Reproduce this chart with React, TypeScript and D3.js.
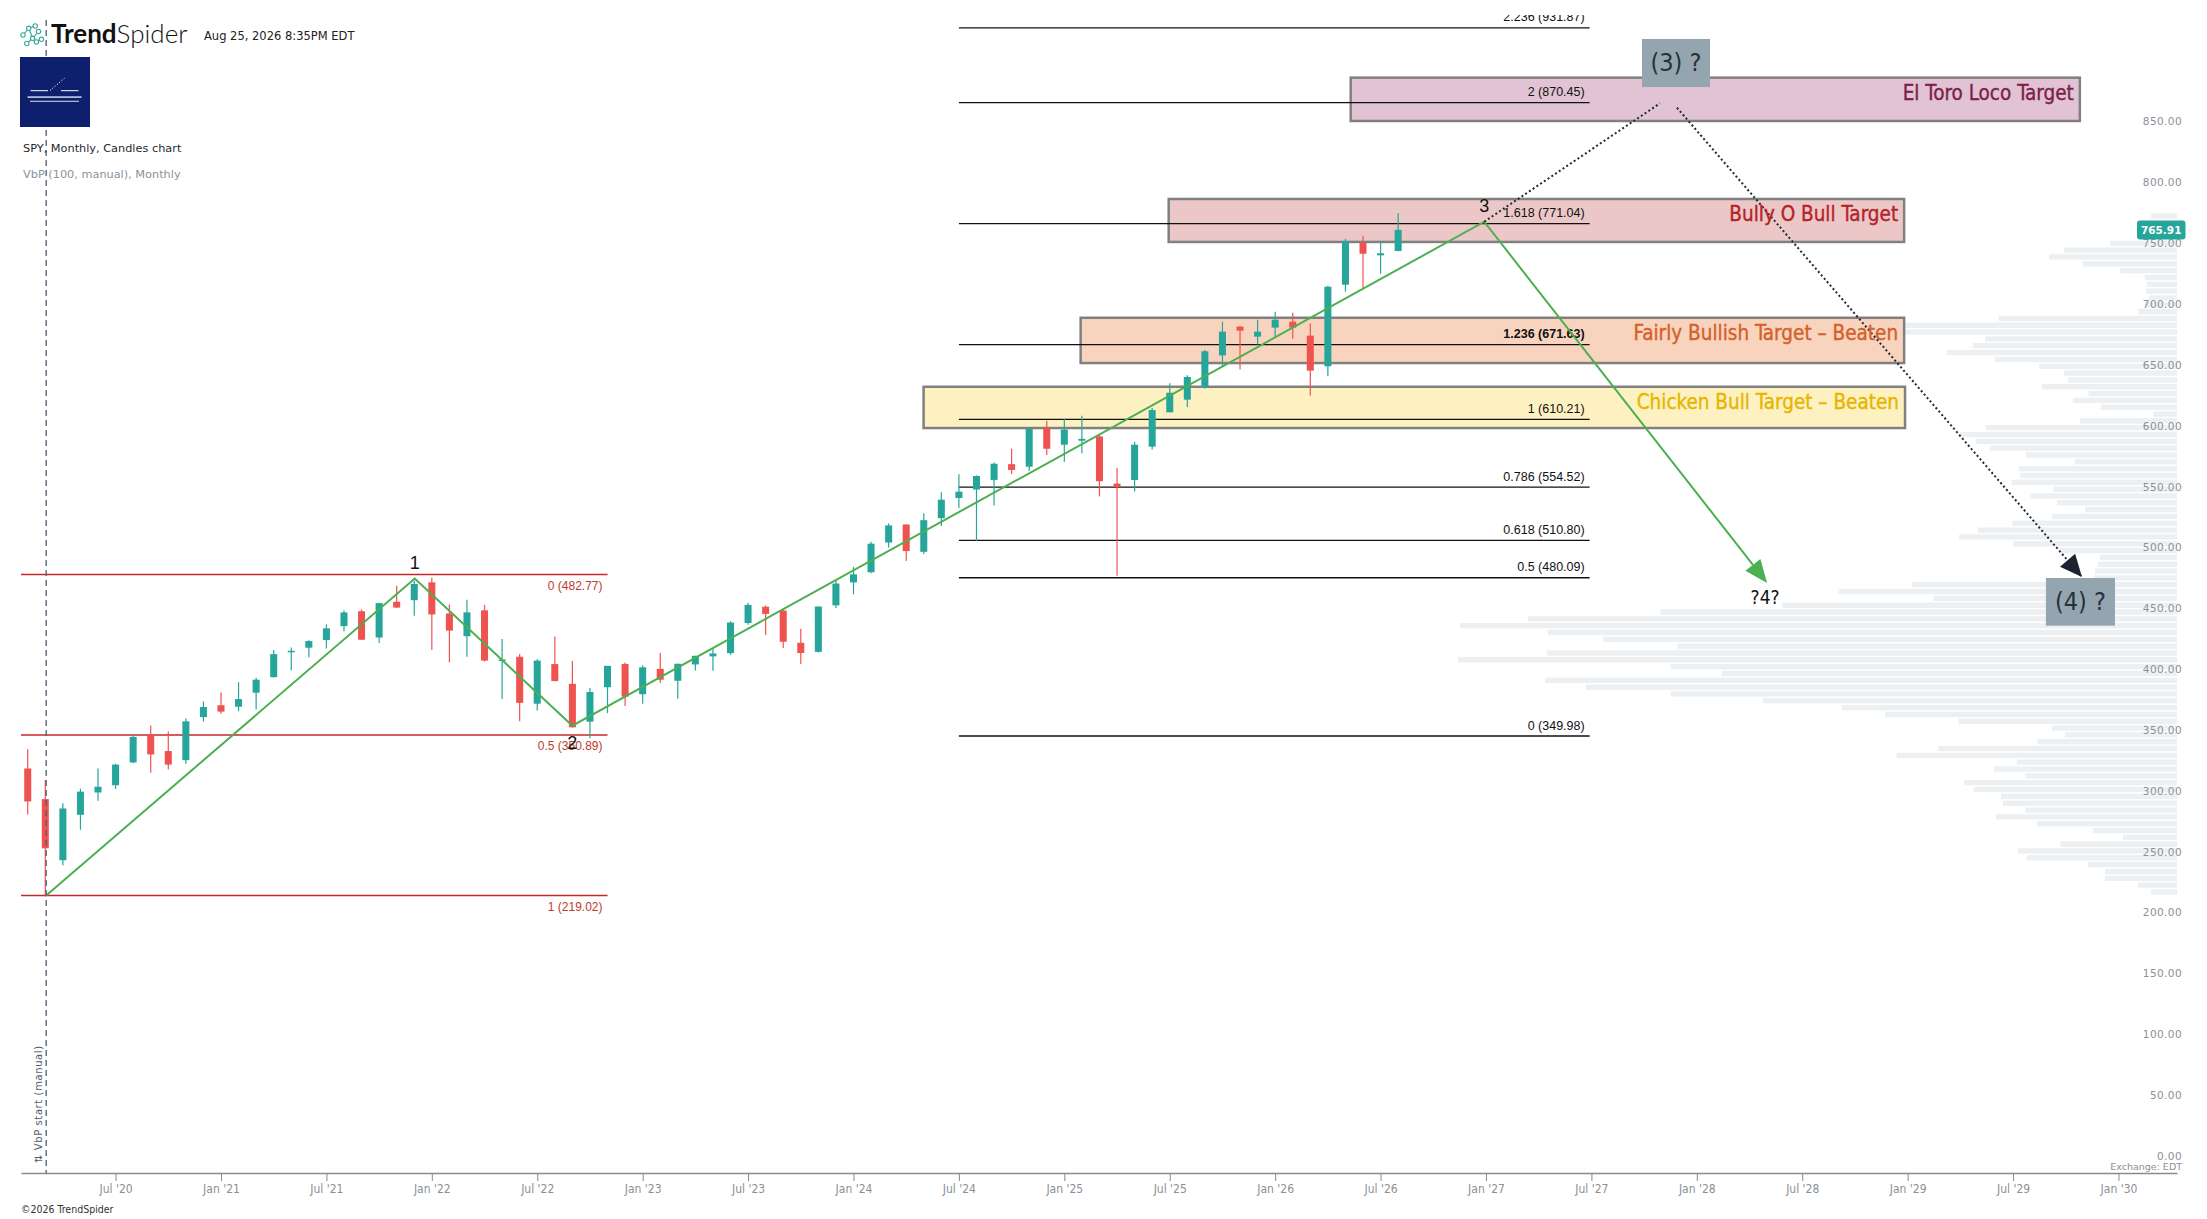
import { useEffect, useRef } from "react";
import * as d3 from "d3";

// monthly candles, Feb 2020 .. Aug 2026  [open, high, low, close]
const FIRST_MONTH = "2020-02";
const OHLC: [number, number, number, number][] = [
  [323.35, 339.08, 285.54, 296.26], [298.21, 313.84, 218.26, 257.75], [247.98, 294.88, 243.9, 290.48],
  [285.31, 306.84, 272.99, 304.32], [303.62, 323.41, 296.74, 308.36], [309.57, 327.23, 306.53, 326.52],
  [328.32, 351.3, 327.73, 349.31], [350.35, 358.75, 319.8, 334.89], [337.69, 354.02, 322.6, 326.54],
  [330.2, 364.38, 327.24, 362.06], [365.57, 378.46, 362.03, 373.88],
  [375.31, 385.85, 368.27, 370.07], [374.08, 394.17, 370.38, 380.36], [385.59, 398.0, 371.88, 396.33],
  [398.4, 420.72, 398.18, 417.3], [419.43, 422.82, 404.0, 420.04], [422.57, 428.78, 414.7, 428.06],
  [428.87, 441.8, 421.97, 438.51], [440.34, 453.07, 436.1, 451.56], [452.56, 454.05, 428.78, 429.14],
  [430.98, 459.56, 426.36, 459.25], [460.3, 473.54, 455.34, 455.56], [461.64, 477.55, 448.92, 474.96],
  [476.3, 479.98, 420.76, 449.91], [450.68, 458.12, 410.64, 436.63], [432.03, 462.07, 415.12, 451.64],
  [453.31, 457.83, 411.21, 412.0], [412.07, 429.66, 380.54, 412.93], [415.17, 417.44, 362.17, 377.25],
  [376.56, 413.03, 371.04, 411.99], [409.15, 431.73, 395.04, 395.18], [392.89, 411.73, 357.04, 357.18],
  [361.8, 389.52, 348.11, 386.21], [390.14, 407.68, 368.79, 407.68], [409.16, 410.49, 374.77, 382.43],
  [384.37, 408.16, 376.5, 406.48], [405.21, 418.31, 393.64, 396.26], [395.41, 409.7, 380.65, 409.39],
  [408.85, 415.94, 403.78, 415.93], [415.47, 422.58, 403.74, 417.85], [418.09, 444.3, 416.79, 443.28],
  [442.92, 459.44, 441.36, 457.79], [456.27, 457.25, 433.01, 450.35], [453.17, 453.67, 422.29, 427.48],
  [426.62, 438.14, 409.21, 418.2], [419.2, 456.4, 418.65, 456.4], [457.42, 477.55, 455.29, 475.31],
  [476.25, 489.01, 466.43, 482.88], [484.63, 509.74, 483.8, 508.08], [508.98, 524.61, 504.91, 523.07],
  [523.83, 523.83, 493.86, 501.98], [501.38, 533.07, 499.55, 527.37], [529.02, 550.28, 522.6, 544.22],
  [545.63, 565.16, 537.45, 550.81], [552.57, 564.2, 510.27, 563.68], [560.47, 574.71, 539.44, 573.76],
  [573.4, 586.12, 565.27, 568.64], [571.32, 603.35, 567.89, 602.55], [602.97, 609.07, 580.91, 586.08],
  [589.39, 610.78, 575.35, 601.82], [592.67, 613.23, 582.44, 594.18], [596.18, 597.34, 546.87, 559.39],
  [557.45, 570.28, 481.8, 554.54], [560.37, 591.86, 550.9, 589.39], [587.8, 619.6, 585.4, 617.85],
  [616.0, 639.8, 616.0, 632.08], [626.4, 646.5, 620.3, 645.05], [636.8, 667.3, 635.5, 666.18],
  [662.8, 690.5, 654.1, 682.3], [686.4, 687.0, 651.1, 683.1], [678.2, 692.1, 671.6, 682.3],
  [685.6, 698.7, 677.6, 692.1], [690.5, 697.9, 676.5, 685.6], [679.0, 688.9, 629.7, 650.3],
  [653.8, 720.0, 645.6, 719.2], [720.9, 758.6, 715.1, 756.8], [755.4, 761.0, 717.6, 746.3],
  [745.0, 755.7, 729.9, 746.7], [748.6, 779.8, 748.3, 765.91],
];

const X_TICK_MONTHS = [6, 12, 18, 24, 30, 36, 42, 48, 54, 60, 66, 72, 78, 84, 90, 96, 102, 108, 114, 120];
const X_TICK_LABELS = [
  "Jul '20", "Jan '21", "Jul '21", "Jan '22", "Jul '22", "Jan '23", "Jul '23", "Jan '24", "Jul '24", "Jan '25",
  "Jul '25", "Jan '26", "Jul '26", "Jan '27", "Jul '27", "Jan '28", "Jul '28", "Jan '29", "Jul '29", "Jan '30",
];
const PRICE_TICKS = [0, 50, 100, 150, 200, 250, 300, 350, 400, 450, 500, 550, 600, 650, 700, 750, 800, 850];

// volume by price, 100 rows from low to high (relative volume)
const VBP_LOW = 219.02;
const VBP_HIGH = 780;
const VBP_VOLUME = [
  3.6, 5.4, 10.0, 10.0, 12.4, 20.9, 22.1, 16.2, 7.5, 11.7,
  19.5, 25.2, 21.1, 24.2, 24.5, 28.3, 29.6, 21.1, 25.5, 22.3,
  39.0, 33.2, 19.4, 15.6, 17.4, 30.4, 40.6, 46.6, 57.6, 70.4,
  82.2, 87.9, 63.3, 70.4, 100, 87.6, 69.5, 79.8, 87.5, 99.7,
  90.3, 71.8, 54.9, 33.9, 47.1, 36.9, 11.5, 11.4, 11.0, 10.7,
  16.3, 22.8, 30.3, 27.7, 22.9, 17.4, 12.8, 16.7, 20.4, 17.2,
  23.0, 21.8, 22.0, 14.2, 21.0, 26.0, 28.0, 30.2, 26.6, 13.5,
  3.3, 10.6, 14.5, 12.3, 18.8, 15.2, 15.7, 19.2, 25.3, 32.0,
  28.4, 26.7, 41.3, 47.3, 24.8, 5.4, 4.5, 3.9, 4.3, 4.2,
  4.5, 7.9, 13.1, 17.8, 15.7, 9.3, 0, 0, 0, 3.6,
];

const RED_FIB_LABELS = ["0 (482.77)", "0.5 (350.89)", "1 (219.02)"];
const RED_FIB_PRICES = [482.77, 350.89, 219.02];
const BLACK_FIB_LABELS = [
  "0 (349.98)", "0.5 (480.09)", "0.618 (510.80)", "0.786 (554.52)", "1 (610.21)",
  "1.236 (671.63)", "1.618 (771.04)", "2 (870.45)", "2.236 (931.87)",
];
const BLACK_FIB_PRICES = [349.98, 480.09, 510.8, 554.52, 610.21, 671.63, 771.04, 870.45, 931.87];

// target zones: month span and price span
const TARGETS = [
  { label: "El Toro Loco Target", m0: 76.3, m1: 117.8, top: 891, bottom: 855.4, fill: "#e1c3d3", text: "#7b1f4b" },
  { label: "Bully O Bull Target", m0: 65.94, m1: 107.8, top: 791.3, bottom: 756, fill: "#ebc7c7", text: "#b5222a" },
  { label: "Fairly Bullish Target – Beaten", m0: 60.93, m1: 107.8, top: 693.7, bottom: 656.5, fill: "#f8d4be", text: "#d4602a" },
  { label: "Chicken Bull Target – Beaten", m0: 51.99, m1: 107.85, top: 637, bottom: 603.1, fill: "#fef1c1", text: "#e6b500" },
];

// elliott wave path (month index, price)
const WAVE: [number, number][] = [[2.05, 219.02], [23.03, 479.4], [32.0, 358.5], [83.9, 772.6], [100.0, 475.8]];
const WAVE_LABELS = ["1", "2", "3"];
const DOTTED_UP: [number, number][] = [[83.9, 772.6], [93.9, 869.9]];
const DOTTED_DOWN: [number, number][] = [[94.87, 866.3], [117.92, 480.7]];
const QUESTION_BOXES = [
  { label: "(3) ?", m0: 92.88, m1: 96.75, top: 922.8, bottom: 883.3 },
  { label: "(4) ?", m0: 115.87, m1: 119.8, top: 479.9, bottom: 440.7 },
];

const W = 2207;
const H = 1219;
const GREEN = "#26a69a";
const RED = "#ef5350";
const NARROW = "'Liberation Sans Narrow', 'DejaVu Sans Condensed', 'Roboto Condensed', sans-serif";
const SANS = "'DejaVu Sans', 'Noto Sans', sans-serif";

function monthIndex(s: string) {
  const [y, m] = s.split("-").map(Number);
  return (y - 2020) * 12 + (m - 1);
}

export default function App() {
  const ref = useRef<SVGSVGElement | null>(null);

  useEffect(() => {
    if (!ref.current) return;
    const svg = d3.select(ref.current);
    svg.selectAll("*").remove();

    const x = d3.scaleLinear().domain([0.617, 123.33]).range([21, 2177]);
    const y = d3.scaleLinear().domain([0, 850]).range([1162, 127.55]);
    const vx = d3.scaleLinear().domain([0, 100]).range([0, 719]);
    const step = x(1) - x(0);
    const m0 = monthIndex(FIRST_MONTH);

    svg.append("rect").attr("width", W).attr("height", H).attr("fill", "#fff");

    svg.append("defs").append("clipPath").attr("id", "plot")
      .append("rect").attr("x", 21).attr("y", 15).attr("width", 2156).attr("height", 1158);

    const plot = svg.append("g").attr("clip-path", "url(#plot)");

    // volume by price
    const rowH = (VBP_HIGH - VBP_LOW) / VBP_VOLUME.length;
    plot.append("g").selectAll("rect").data(VBP_VOLUME).enter().append("rect")
      .attr("x", (d) => 2177 - vx(d))
      .attr("width", (d) => vx(d))
      .attr("y", (_, i) => y(VBP_LOW + (i + 1) * rowH) + 0.6)
      .attr("height", (_, i) => y(VBP_LOW + i * rowH) - y(VBP_LOW + (i + 1) * rowH) - 1.4)
      .attr("fill", "#edf0f2");

    // red fib (wave 1 retracement)
    RED_FIB_PRICES.forEach((p, i) => {
      plot.append("line").attr("x1", x(0.617)).attr("x2", x(34.0))
        .attr("y1", y(p)).attr("y2", y(p)).attr("stroke", "#c62828").attr("stroke-width", 1.5);
      plot.append("text").attr("x", x(34.0) - 5).attr("y", y(p) + 15.5)
        .attr("text-anchor", "end").attr("font-family", "'Liberation Sans', sans-serif")
        .attr("font-size", 12).attr("fill", "#c0392b").text(RED_FIB_LABELS[i]);
    });

    // target boxes
    TARGETS.forEach((t) => {
      plot.append("rect").attr("x", x(t.m0)).attr("y", y(t.top))
        .attr("width", x(t.m1) - x(t.m0)).attr("height", y(t.bottom) - y(t.top))
        .attr("fill", t.fill).attr("stroke", "#808080").attr("stroke-width", 2.5);
    });

    // black fib extension
    BLACK_FIB_PRICES.forEach((p, i) => {
      plot.append("line").attr("x1", x(54.0)).attr("x2", x(89.9))
        .attr("y1", y(p)).attr("y2", y(p)).attr("stroke", "#111").attr("stroke-width", 1.4);
      plot.append("text").attr("x", x(89.9) - 5).attr("y", y(p) - 6.5)
        .attr("text-anchor", "end").attr("font-family", "'Liberation Sans', sans-serif")
        .attr("font-size", 12.5).attr("fill", "#111")
        .attr("font-weight", p === 671.63 ? 700 : 400).text(BLACK_FIB_LABELS[i]);
    });

    // candles
    const bw = step * 0.4;
    const candles = plot.append("g").selectAll("g").data(OHLC).enter().append("g");
    candles.append("line")
      .attr("x1", (_, i) => x(m0 + i)).attr("x2", (_, i) => x(m0 + i))
      .attr("y1", (d) => y(d[1])).attr("y2", (d) => y(d[2]))
      .attr("stroke", (d) => (d[3] >= d[0] ? GREEN : RED)).attr("stroke-width", 1.2);
    candles.append("rect")
      .attr("x", (_, i) => x(m0 + i) - bw / 2).attr("width", bw)
      .attr("y", (d) => y(Math.max(d[0], d[3])))
      .attr("height", (d) => Math.max(1.5, Math.abs(y(d[0]) - y(d[3]))))
      .attr("fill", (d) => (d[3] >= d[0] ? GREEN : RED));

    const arrowHead = (a: [number, number], b: [number, number], len: number, half: number) => {
      const dx = b[0] - a[0];
      const dy = b[1] - a[1];
      const l = Math.hypot(dx, dy);
      const ux = dx / l, uy = dy / l;
      const bx = b[0] - ux * len, by = b[1] - uy * len;
      return `M${b[0]},${b[1]}L${bx - uy * half},${by + ux * half}L${bx + uy * half},${by - ux * half}Z`;
    };

    // elliott wave
    const line = d3.line<[number, number]>().x((d) => x(d[0])).y((d) => y(d[1]));
    const wavePx = WAVE.map((d) => [x(d[0]), y(d[1])] as [number, number]);
    const lastGreen = wavePx[wavePx.length - 1];
    const prevGreen = wavePx[wavePx.length - 2];
    plot.append("path").attr("d", line(WAVE.slice(0, -1)) + `L${lastGreen[0] - (lastGreen[0] - prevGreen[0]) * 0.05},${lastGreen[1] - (lastGreen[1] - prevGreen[1]) * 0.05}`)
      .attr("fill", "none").attr("stroke", "#4caf50").attr("stroke-width", 2);
    plot.append("path").attr("d", arrowHead(prevGreen, lastGreen, 23, 9.5)).attr("fill", "#4caf50");

    // dotted projection
    [DOTTED_UP, DOTTED_DOWN].forEach((seg) => {
      plot.append("path").attr("d", line(seg)).attr("fill", "none")
        .attr("stroke", "#1e2935").attr("stroke-width", 2).attr("stroke-dasharray", "2,2.5");
    });
    const dd = DOTTED_DOWN.map((d) => [x(d[0]), y(d[1])] as [number, number]);
    plot.append("path").attr("d", arrowHead(dd[0], dd[1], 22, 10)).attr("fill", "#1a232e");

    // target labels
    TARGETS.forEach((t) => {
      plot.append("text").attr("x", x(t.m1) - 6).attr("y", y(t.top) + 22)
        .attr("text-anchor", "end").attr("font-family", NARROW).attr("font-size", 20.5)
        .attr("fill", t.text).attr("stroke", t.text).attr("stroke-width", 0.35).text(t.label);
    });

    // question boxes
    QUESTION_BOXES.forEach((q) => {
      plot.append("rect").attr("x", x(q.m0)).attr("y", y(q.top))
        .attr("width", x(q.m1) - x(q.m0)).attr("height", y(q.bottom) - y(q.top)).attr("fill", "#95a5b0");
      plot.append("text").attr("x", (x(q.m0) + x(q.m1)) / 2).attr("y", (y(q.top) + y(q.bottom)) / 2 + 8.5)
        .attr("text-anchor", "middle").attr("font-family", NARROW).attr("font-size", 25)
        .attr("fill", "#26313b").text(q.label);
    });

    // wave labels
    WAVE_LABELS.forEach((lab, i) => {
      const p = WAVE[i + 1];
      const below = lab === "2";
      plot.append("text").attr("x", x(p[0])).attr("y", y(p[1]) + (below ? 23 : -10))
        .attr("text-anchor", "middle").attr("font-family", "'Liberation Sans', sans-serif")
        .attr("font-size", 18).attr("fill", "#111").text(lab);
    });
    plot.append("text").attr("x", lastGreen[0] - 2).attr("y", lastGreen[1] + 21)
      .attr("text-anchor", "middle").attr("font-family", NARROW).attr("font-size", 19)
      .attr("fill", "#111").text("?4?");

    // VbP start marker
    svg.append("line").attr("x1", x(2.05)).attr("x2", x(2.05)).attr("y1", 20).attr("y2", 1173)
      .attr("stroke", "#4d5d72").attr("stroke-width", 1.3).attr("stroke-dasharray", "6,4");
    svg.append("text").attr("transform", `translate(${x(2.05) - 4},1163) rotate(-90)`)
      .attr("font-family", SANS).attr("font-size", 10).attr("letter-spacing", 0.6)
      .attr("fill", "#4d5d72").text("⇅ VbP start (manual)");

    // x axis
    const xa = svg.append("g").attr("transform", "translate(0,1173)")
      .call(d3.axisBottom(x).tickValues(X_TICK_MONTHS).tickSize(8).tickSizeOuter(0)
        .tickFormat((_, i) => X_TICK_LABELS[i]));
    xa.select(".domain").attr("stroke", "#8a8a8a").attr("stroke-width", 1.5);
    xa.selectAll(".tick line").attr("stroke", "#8a8a8a");
    xa.selectAll("text").attr("fill", "#8a9096").attr("font-family", NARROW).attr("font-size", 12);

    // price axis
    const ya = svg.append("g").attr("transform", "translate(2182,-6)")
      .call(d3.axisLeft(y).tickValues(PRICE_TICKS).tickSize(0).tickPadding(0)
        .tickFormat((d) => (d as number).toFixed(2)));
    ya.select(".domain").remove();
    ya.selectAll("text").attr("fill", "#8a9096").attr("font-family", SANS)
      .attr("font-size", 10.5).attr("letter-spacing", 0.4);

    // last price badge
    const last = OHLC[OHLC.length - 1][3];
    svg.append("rect").attr("x", 2137).attr("y", y(last) - 9.5).attr("width", 48.5).attr("height", 19)
      .attr("rx", 3).attr("fill", GREEN);
    svg.append("text").attr("x", 2161.2).attr("y", y(last) + 4).attr("text-anchor", "middle")
      .attr("font-family", SANS).attr("font-size", 10.5).attr("font-weight", 600)
      .attr("fill", "#fff").text(last.toFixed(2));

    svg.append("text").attr("x", 2182).attr("y", 1170).attr("text-anchor", "end")
      .attr("font-family", SANS).attr("font-size", 9.5).attr("fill", "#8a9096").text("Exchange: EDT");
    svg.append("text").attr("x", 21).attr("y", 1213)
      .attr("font-family", NARROW).attr("font-size", 10.5).attr("fill", "#333").text("©2026 TrendSpider");

    // header
    const icon = svg.append("g").attr("stroke", "#3aa89a").attr("fill", "#fff").attr("stroke-width", 1.1);
    const nodes: [number, number][] = [[23, 35], [28.7, 28.3], [35.2, 26], [38.5, 31.5], [32.6, 38.3], [26.8, 43.5], [36.4, 42], [41.4, 39.3]];
    const links = [[0, 1], [1, 2], [1, 4], [4, 3], [4, 5], [4, 6], [6, 7]];
    links.forEach(([a, b]) => {
      icon.append("line").attr("x1", nodes[a][0]).attr("y1", nodes[a][1]).attr("x2", nodes[b][0]).attr("y2", nodes[b][1]);
    });
    nodes.forEach((n) => icon.append("circle").attr("cx", n[0]).attr("cy", n[1]).attr("r", 2.2));

    const brand = svg.append("text").attr("x", 51).attr("y", 43).attr("font-family", "Lato, 'Open Sans', sans-serif")
      .attr("font-size", 26).attr("fill", "#111");
    brand.append("tspan").attr("font-weight", 700).text("Trend");
    brand.append("tspan").attr("font-weight", 300).text("Spider");
    svg.append("text").attr("x", 204).attr("y", 39.5).attr("font-family", SANS).attr("font-size", 11.5)
      .attr("fill", "#222").text("Aug 25, 2026 8:35PM EDT");

    const logo = svg.append("g");
    logo.append("rect").attr("x", 20).attr("y", 57).attr("width", 70).attr("height", 70).attr("fill", "#0e1f6e");
    logo.append("line").attr("x1", 30.6).attr("x2", 48).attr("y1", 90.7).attr("y2", 90.7).attr("stroke", "#fff").attr("stroke-width", 1);
    logo.append("line").attr("x1", 61).attr("x2", 78.5).attr("y1", 90.7).attr("y2", 90.7).attr("stroke", "#fff").attr("stroke-width", 1);
    logo.append("line").attr("x1", 50).attr("x2", 64.5).attr("y1", 90.5).attr("y2", 78.3).attr("stroke", "#fff")
      .attr("stroke-width", 1).attr("stroke-dasharray", "1.2,1.8");
    logo.append("rect").attr("x", 27.6).attr("y", 96.3).attr("width", 54).attr("height", 1.6).attr("fill", "#c8cde4");
    logo.append("rect").attr("x", 30).attr("y", 100.7).attr("width", 49).attr("height", 1.3).attr("fill", "#aab2d6");

    svg.append("text").attr("x", 23).attr("y", 151.5).attr("font-family", SANS).attr("font-size", 11.3)
      .attr("fill", "#1f2a33").text("SPY, Monthly, Candles chart");
    svg.append("text").attr("x", 23).attr("y", 177.5).attr("font-family", SANS).attr("font-size", 11.3)
      .attr("fill", "#8a9399").text("VbP (100, manual), Monthly");
  }, []);

  return (
    <svg
      ref={ref}
      width={W}
      height={H}
      style={{ position: "absolute", left: 0, top: 0, display: "block" }}
    />
  );
}
